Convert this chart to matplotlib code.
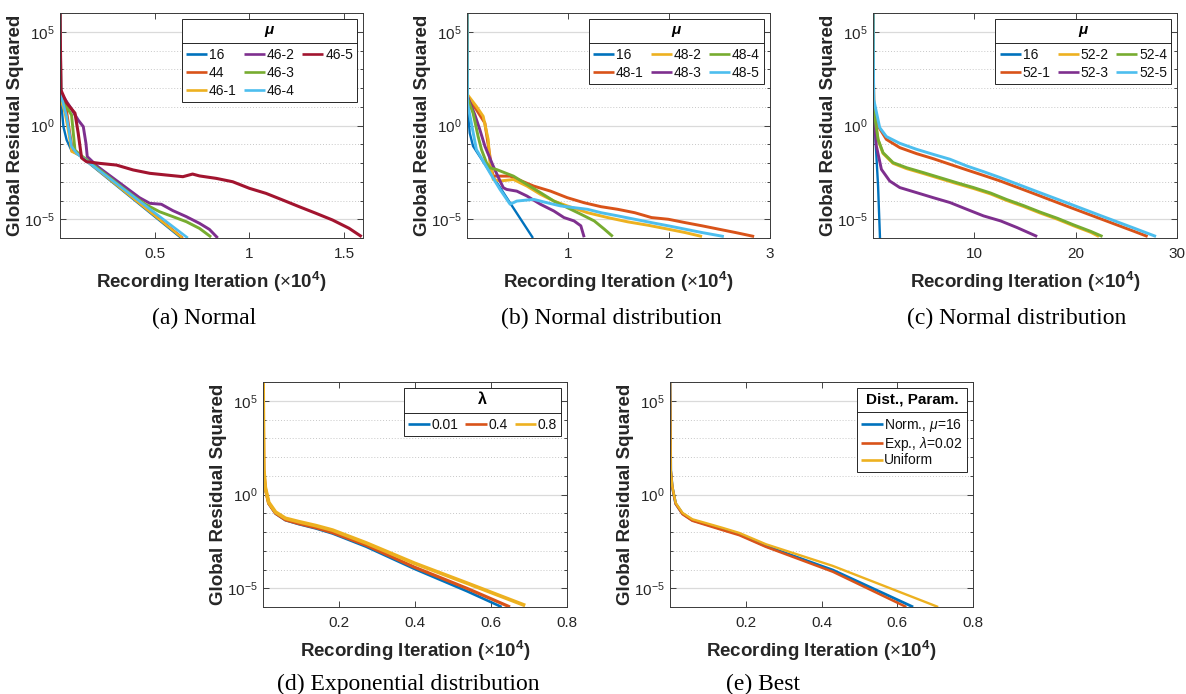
import math
import numpy as np
import matplotlib
matplotlib.use("Agg")
import matplotlib.pyplot as plt
from matplotlib.lines import Line2D
from matplotlib.ticker import FixedLocator, NullFormatter

plt.rcParams["font.family"] = ["Liberation Sans", "DejaVu Sans"]
plt.rcParams["mathtext.fontset"] = "custom"
plt.rcParams["mathtext.rm"] = "Liberation Sans"
plt.rcParams["mathtext.it"] = "Liberation Sans:italic"
plt.rcParams["mathtext.bf"] = "Liberation Sans:bold"

# MATLAB default colour order
BLUE, ORANGE, YELLOW, PURPLE, GREEN, CYAN, RED = (
    "#0072BD", "#D95319", "#EDB120", "#7E2F8E", "#77AC30", "#4DBEEE", "#A2142F")
INK = "#262626"

# ---------------------------------------------------------------- data
# x: recording iteration (x10^4); e: log10 of the global residual squared

# (a) Normal
a_labels = ["16", "44", "46-1", "46-2", "46-3", "46-4", "46-5"]
a_colors = [BLUE, ORANGE, YELLOW, PURPLE, GREEN, CYAN, RED]
a_widths = [1.7, 1.7, 1.7, 2.1, 2.1, 1.9, 2.2]
a_x = [
    [0, 0.005, 0.018, 0.035, 0.061, 0.105, 0.64],
    [0, 0.005, 0.035, 0.053, 0.067, 0.11, 0.649],
    [0, 0.005, 0.026, 0.044, 0.061, 0.105, 0.646],
    [0, 0.005, 0.053, 0.096, 0.123, 0.137, 0.144, 0.2, 0.42, 0.474, 0.535,
     0.596, 0.667, 0.737, 0.789, 0.833],
    [0, 0.005, 0.035, 0.061, 0.079, 0.105, 0.386, 0.45, 0.526, 0.596, 0.667,
     0.737, 0.798],
    [0, 0.005, 0.035, 0.061, 0.088, 0.675],
    [0, 0.005, 0.035, 0.079, 0.096, 0.114, 0.14, 0.21, 0.298, 0.386, 0.474,
     0.56, 0.649, 0.70, 0.737, 0.825, 0.912, 1.0, 1.088, 1.175, 1.263, 1.351,
     1.439, 1.526, 1.593],
]
a_e = [
    [6.3, 1.36, -0.06, -0.77, -1.34, -1.62, -6.0],
    [6.3, 1.63, 0.83, -0.42, -1.31, -1.6, -6.0],
    [6.3, 1.36, 0.65, -0.33, -1.39, -1.6, -6.0],
    [6.3, 1.72, 1.0, 0.29, -0.06, -0.95, -1.66, -2.2, -3.85, -4.15, -4.2,
     -4.54, -4.86, -5.22, -5.54, -6.0],
    [6.3, 1.45, 1.0, 0.56, -1.31, -1.55, -3.75, -4.2, -4.6, -4.86, -5.13,
     -5.49, -5.95],
    [6.3, 1.63, 0.47, -1.13, -1.48, -6.0],
    [6.3, 1.89, 1.2, 0.66, -0.4, -1.73, -1.93, -2.02, -2.11, -2.37, -2.55,
     -2.64, -2.73, -2.59, -2.69, -2.82, -3.0, -3.35, -3.62, -3.97, -4.33,
     -4.68, -5.04, -5.48, -5.93],
]

# (b) Normal distribution, mu = 48
b_labels = ["16", "48-1", "48-2", "48-3", "48-4", "48-5"]
b_colors = [BLUE, ORANGE, YELLOW, PURPLE, GREEN, CYAN]
b_widths = [1.7, 2.1, 2.1, 2.1, 2.1, 2.1]
b_x = [
    [0, 0.005, 0.027, 0.06, 0.653],
    [0, 0.005, 0.093, 0.177, 0.227, 0.243, 0.26, 0.427, 0.66, 0.827, 0.993,
     1.16, 1.327, 1.493, 1.66, 1.827, 1.993, 2.16, 2.327, 2.493, 2.66, 2.843],
    [0, 0.005, 0.093, 0.16, 0.21, 0.227, 0.26, 0.327, 0.46, 0.593, 0.727,
     0.86, 0.993, 1.193, 1.393, 1.593, 1.793, 1.993, 2.16, 2.327],
    [0, 0.005, 0.077, 0.127, 0.177, 0.26, 0.327, 0.36, 0.393, 0.493, 0.593,
     0.727, 0.86, 0.96, 1.06, 1.127, 1.16],
    [0, 0.005, 0.06, 0.11, 0.143, 0.193, 0.227, 0.293, 0.46, 0.593, 0.727,
     0.86, 0.993, 1.127, 1.26, 1.36, 1.443],
    [0, 0.005, 0.043, 0.093, 0.227, 0.327, 0.427, 0.493, 0.66, 0.793, 0.927,
     1.06, 1.193, 1.327, 1.493, 1.66, 1.827, 1.993, 2.16, 2.327, 2.543],
]
b_e = [
    [6.3, 1.02, -0.4, -1.1, -6.0],
    [6.3, 1.55, 0.84, 0.13, -1.64, -2.35, -2.7, -2.7, -3.23, -3.5, -3.85,
     -4.12, -4.33, -4.47, -4.65, -4.91, -5.0, -5.18, -5.35, -5.53, -5.71, -5.92],
    [6.3, 1.64, 1.02, 0.49, -0.75, -1.99, -2.88, -2.96, -2.88, -3.23, -3.67,
     -4.03, -4.29, -4.65, -4.91, -5.14, -5.32, -5.53, -5.71, -5.92],
    [6.3, 1.55, 0.58, -0.22, -1.1, -2.17, -2.96, -3.32, -3.41, -3.5, -3.76,
     -4.2, -4.56, -4.91, -5.09, -5.35, -5.96],
    [6.3, 1.46, 0.66, -0.58, -1.28, -1.99, -2.26, -2.35, -2.7, -3.14, -3.58,
     -4.03, -4.38, -4.73, -5.09, -5.53, -5.92],
    [6.3, 1.19, 0.13, -1.28, -2.52, -3.41, -4.2, -4.03, -3.94, -4.12, -4.29,
     -4.38, -4.47, -4.65, -4.82, -5.0, -5.18, -5.35, -5.53, -5.71, -5.92],
]

# (c) Normal distribution, mu = 52
c_labels = ["16", "52-1", "52-2", "52-3", "52-4", "52-5"]
c_colors = [BLUE, ORANGE, YELLOW, PURPLE, GREEN, CYAN]
c_widths = [1.7, 2.1, 2.1, 2.1, 2.1, 2.1]
c_x = [
    [0, 0.07, 0.26, 0.5, 0.69],
    [0, 0.07, 0.5, 1.32, 2.64, 4.3, 5.95, 7.6, 9.26, 10.9, 12.56, 15.87,
     19.17, 22.48, 25.79, 27.1],
    [0, 0.07, 0.5, 0.99, 1.98, 3.31, 4.96, 6.61, 8.26, 9.92, 11.6, 13.2,
     14.9, 16.5, 18.2, 19.8, 21.5, 22.3],
    [0, 0.07, 0.33, 0.83, 1.65, 2.64, 4.3, 5.95, 7.6, 9.26, 10.9, 12.6,
     14.2, 16.2],
    [0, 0.07, 0.5, 0.99, 1.98, 3.31, 4.96, 6.61, 8.26, 9.92, 11.6, 13.2,
     14.9, 16.5, 18.2, 19.8, 21.5, 22.65],
    [0, 0.07, 0.66, 1.32, 2.64, 4.3, 5.95, 7.6, 9.26, 10.9, 12.56, 15.87,
     19.17, 22.48, 25.79, 27.93],
]
c_e = [
    [6.3, 1.22, -0.91, -3.22, -6.0],
    [6.3, 1.04, -0.03, -0.74, -1.18, -1.5, -1.77, -2.07, -2.37, -2.66,
     -2.96, -3.63, -4.31, -4.98, -5.65, -5.92],
    [6.3, 0.84, -0.77, -1.49, -2.02, -2.3, -2.56, -2.83, -3.1, -3.36, -3.65,
     -4.0, -4.33, -4.67, -5.0, -5.35, -5.7, -5.92],
    [6.3, 0.86, -1.09, -2.34, -2.96, -3.31, -3.58, -3.85, -4.11, -4.47,
     -4.82, -5.09, -5.44, -5.92],
    [6.3, 0.86, -0.74, -1.45, -1.98, -2.25, -2.51, -2.78, -3.05, -3.31,
     -3.6, -3.95, -4.28, -4.62, -4.95, -5.3, -5.65, -5.92],
    [6.3, 1.39, -0.11, -0.59, -0.95, -1.27, -1.54, -1.8, -2.16, -2.46,
     -2.78, -3.46, -4.13, -4.81, -5.48, -5.92],
]

# (d) Exponential distribution
d_labels = ["0.01", "0.4", "0.8"]
d_colors = [BLUE, ORANGE, YELLOW]
d_widths = [1.9, 2.3, 2.7]
d_x = [
    [0, 0.002, 0.006, 0.015, 0.033, 0.059, 0.094, 0.139, 0.183, 0.271,
     0.399, 0.536, 0.628],
    [0, 0.002, 0.006, 0.015, 0.033, 0.059, 0.094, 0.139, 0.183, 0.271,
     0.399, 0.536, 0.65],
    [0, 0.002, 0.006, 0.015, 0.033, 0.059, 0.094, 0.139, 0.183, 0.271,
     0.399, 0.536, 0.69],
]
d_e = [
    [6.3, 1.28, 0.31, -0.49, -1.02, -1.37, -1.58, -1.81, -2.08, -2.78,
     -3.97, -5.15, -6.0],
    [6.3, 1.3, 0.33, -0.47, -1.0, -1.35, -1.55, -1.77, -2.03, -2.7, -3.88,
     -5.0, -6.0],
    [6.3, 1.35, 0.38, -0.42, -0.94, -1.27, -1.45, -1.66, -1.9, -2.58, -3.67,
     -4.72, -5.92],
]

# (e) Best of each distribution
e_labels = [r"Norm., $\mu$=16", r"Exp., $\lambda$=0.02", "Uniform"]
e_colors = [BLUE, ORANGE, YELLOW]
e_widths = [2.0, 1.8, 1.7]
e_x = [
    [0, 0.002, 0.006, 0.015, 0.033, 0.059, 0.094, 0.139, 0.183, 0.253,
     0.43, 0.642],
    [0, 0.002, 0.006, 0.015, 0.033, 0.059, 0.094, 0.139, 0.183, 0.253,
     0.43, 0.624],
    [0, 0.002, 0.006, 0.015, 0.033, 0.059, 0.094, 0.139, 0.183, 0.253,
     0.43, 0.708],
]
e_e = [
    [6.3, 1.28, 0.4, -0.49, -1.02, -1.37, -1.58, -1.85, -2.12, -2.75,
     -4.03, -6.0],
    [6.3, 1.28, 0.4, -0.5, -1.05, -1.4, -1.62, -1.9, -2.17, -2.79, -4.12,
     -6.0],
    [6.3, 1.3, 0.44, -0.45, -0.98, -1.32, -1.52, -1.78, -2.05, -2.65,
     -3.81, -6.0],
]

# ---------------------------------------------------------------- drawing
W, H = 1186, 694
fig = plt.figure(figsize=(W / 100, H / 100), dpi=100)


def px_rect(left, top, right, bottom):
    return [left / W, 1 - bottom / H, (right - left) / W, (bottom - top) / H]


def panel(rect, labels, colors, widths, xs, es, xlim, xticks, xticklabels,
          legend_title, ncol, title_style, title_size, lab_space):
    ax = fig.add_axes(rect)
    handles = []
    for lab, col, lw, x, e in zip(labels, colors, widths, xs, es):
        (ln,) = ax.plot(x, np.power(10.0, e), color=col, lw=lw, label=lab,
                        solid_joinstyle="round", solid_capstyle="butt")
        handles.append(ln)
    ax.set_yscale("log")
    ax.set_ylim(1e-6, 1e6)
    ax.set_xlim(*xlim)

    ax.yaxis.set_major_locator(FixedLocator([1e-5, 1e0, 1e5]))
    ax.set_yticklabels([r"$10^{-5}$", r"$10^{0}$", r"$10^{5}$"])
    minors = [10.0 ** k for k in range(-6, 7) if k not in (-5, 0, 5)]
    ax.yaxis.set_minor_locator(FixedLocator(minors))
    ax.yaxis.set_minor_formatter(NullFormatter())
    ax.set_xticks(xticks)
    ax.set_xticklabels(xticklabels)

    ax.grid(axis="y", which="major", color="#dadada", lw=0.9, ls="-")
    ax.grid(axis="y", which="minor", color="#c8c8c8", lw=0.7, ls=(0, (1, 2)))
    ax.set_axisbelow(True)

    ax.tick_params(which="both", direction="in", top=True, right=True,
                   colors=INK, labelcolor=INK, labelsize=11, width=0.6)
    ax.tick_params(which="major", length=4)
    ax.tick_params(which="minor", length=2.5)
    ax.tick_params(axis="x", pad=6.5)
    ax.tick_params(axis="y", pad=4)
    for s in ax.spines.values():
        s.set_color("#3a3a3a")
        s.set_linewidth(0.7)

    ax.set_xlabel(r"Recording Iteration ($\times$10$^{\mathbf{4}}$)",
                  fontsize=13.5, fontweight="bold", color=INK)
    ax.set_ylabel("Global Residual Squared", fontsize=13.5,
                  fontweight="bold", color=INK)
    ax.xaxis.set_label_coords(0.5, -0.143)
    ax.yaxis.set_label_coords(-0.12, 0.5)

    # fill the column grid so that columns are filled top to bottom evenly
    rows = math.ceil(len(handles) / ncol)
    leg_labels = list(labels)
    while len(handles) < rows * ncol:
        handles.append(Line2D([], [], color="none"))
        leg_labels.append("")

    leg = ax.legend(handles, leg_labels, loc="upper right", ncol=ncol,
                    fontsize=10, title=legend_title, frameon=True,
                    fancybox=False, framealpha=1, edgecolor=INK,
                    borderaxespad=0.42, handlelength=1.55, handletextpad=0.12,
                    columnspacing=0.5, labelspacing=lab_space, borderpad=0.3)
    leg.get_frame().set_linewidth(0.7)
    for h in leg.get_lines():
        h.set_linewidth(1.9)
    for t in leg.get_texts():
        t.set_color("#111111")
    tt = leg.get_title()
    tt.set_fontweight("bold")
    tt.set_fontstyle(title_style)
    tt.set_fontsize(title_size)
    # extra space between the header and the entries
    leg._legend_box.sep = 8
    return ax, leg


XT_SMALL = [0.2, 0.4, 0.6, 0.8]
XL_SMALL = ["0.2", "0.4", "0.6", "0.8"]
axes_specs = [
    (px_rect(60, 13, 363, 238), a_labels, a_colors, a_widths, a_x, a_e,
     (0, 1.6), [0.5, 1, 1.5], ["0.5", "1", "1.5"], "μ", 3, "italic", 11,
     0.28),
    (px_rect(467, 13, 770, 238), b_labels, b_colors, b_widths, b_x, b_e,
     (0, 3), [1, 2, 3], ["1", "2", "3"], "μ", 3, "italic", 11, 0.28),
    (px_rect(873, 13, 1177, 238), c_labels, c_colors, c_widths, c_x, c_e,
     (0, 30), [10, 20, 30], ["10", "20", "30"], "μ", 3, "italic", 11, 0.28),
    (px_rect(263, 382, 567, 607), d_labels, d_colors, d_widths, d_x, d_e,
     (0, 0.8), XT_SMALL, XL_SMALL, "λ", 3, "normal", 11.5, 0.28),
    (px_rect(670, 382, 973, 607), e_labels, e_colors, e_widths, e_x, e_e,
     (0, 0.8), XT_SMALL, XL_SMALL, "Dist., Param.", 1, "normal", 11, 0.05),
]

legends = []
for spec in axes_specs:
    ax, leg = panel(*spec)
    legends.append(leg)

# sub-figure captions
captions = [
    ("(a) Normal", 204, 324),
    ("(b) Normal distribution", 611, 324),
    ("(c) Normal distribution", 1017, 324),
    ("(d) Exponential distribution", 408, 690),
    ("(e) Best", 763, 690),
]
for txt, cx, cy in captions:
    fig.text(cx / W, 1 - cy / H, txt, ha="center", va="baseline",
             fontsize=17, family=["Liberation Serif", "DejaVu Serif"],
             color="black")

# rule under each legend header
fig.canvas.draw()
renderer = fig.canvas.get_renderer()
inv = fig.transFigure.inverted()
for leg in legends:
    fb = leg.get_frame().get_window_extent(renderer)
    tb = leg.get_title().get_window_extent(renderer)
    first = leg.get_texts()[0].get_window_extent(renderer)
    ysep = 0.5 * (tb.y0 + first.y1)
    (x0, y0), (x1, _) = inv.transform([(fb.x0, ysep), (fb.x1, ysep)])
    fig.add_artist(Line2D([x0, x1], [y0, y0], color=INK, lw=0.7,
                          transform=fig.transFigure))

fig.savefig("out.png", dpi=100)
